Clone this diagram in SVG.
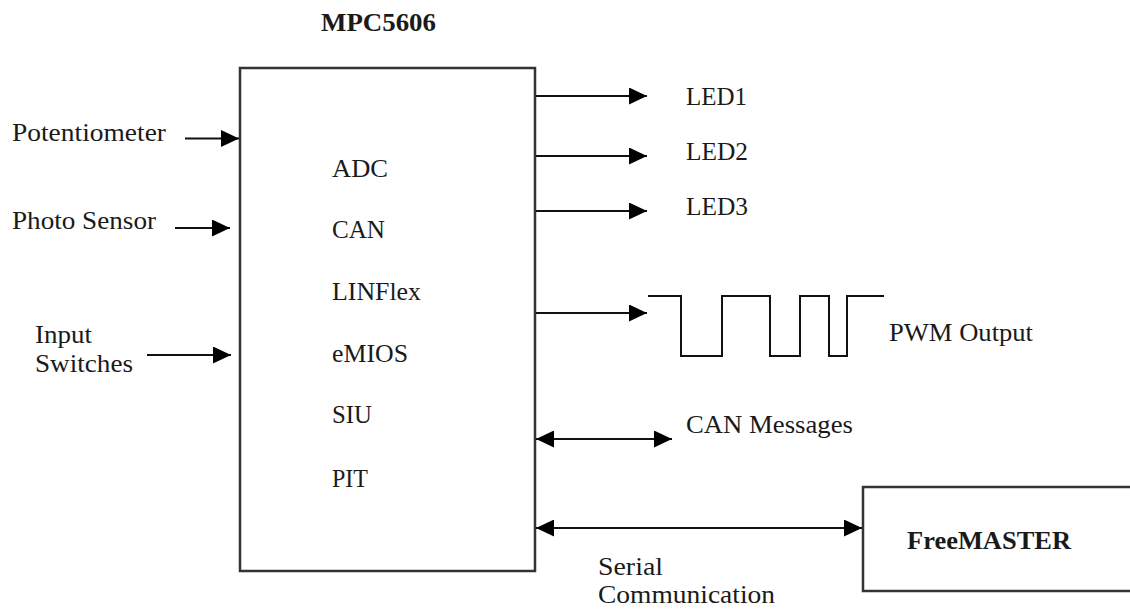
<svg xmlns="http://www.w3.org/2000/svg" width="1130" height="609" viewBox="0 0 1130 609">
<style>
  text { font-family: "Liberation Serif", "Times New Roman", serif; font-size: 26px; fill: #1a1a1a; }
  .b { font-weight: bold; }
  .box { fill: #ffffff; stroke: #333333; stroke-width: 2.5; }
  .ln { fill: none; stroke: #111111; stroke-width: 2; }
</style>
<defs>
  <marker id="ah" viewBox="0 0 18 17" refX="18" refY="8.5" markerWidth="18" markerHeight="17" markerUnits="userSpaceOnUse" orient="auto-start-reverse">
    <path d="M0,0 L18,8.5 L0,17 z" fill="#000000"/>
  </marker>
</defs>
<rect width="1130" height="609" fill="#ffffff"/>

<g id="mpc5606">
  <rect class="box" x="240" y="68" width="295" height="503"/>
  <text class="b" x="321" y="31" textLength="115" lengthAdjust="spacingAndGlyphs">MPC5606</text>
  <text x="332" y="177" textLength="56" lengthAdjust="spacingAndGlyphs">ADC</text>
  <text x="332" y="238" textLength="53" lengthAdjust="spacingAndGlyphs">CAN</text>
  <text x="332" y="300" textLength="89" lengthAdjust="spacingAndGlyphs">LINFlex</text>
  <text x="332" y="362" textLength="76" lengthAdjust="spacingAndGlyphs">eMIOS</text>
  <text x="332" y="423" textLength="40" lengthAdjust="spacingAndGlyphs">SIU</text>
  <text x="332" y="487" textLength="36" lengthAdjust="spacingAndGlyphs">PIT</text>
</g>

<g id="potentiometer">
  <text x="12" y="141" textLength="154" lengthAdjust="spacingAndGlyphs">Potentiometer</text>
</g>
<g id="photo-sensor">
  <text x="12" y="229" textLength="144" lengthAdjust="spacingAndGlyphs">Photo Sensor</text>
</g>
<g id="input-switches">
  <text x="35" y="343" textLength="57" lengthAdjust="spacingAndGlyphs">Input</text>
  <text x="35" y="372" textLength="98" lengthAdjust="spacingAndGlyphs">Switches</text>
</g>

<g id="led1"><text x="686" y="105" textLength="61" lengthAdjust="spacingAndGlyphs">LED1</text></g>
<g id="led2"><text x="686" y="160" textLength="62" lengthAdjust="spacingAndGlyphs">LED2</text></g>
<g id="led3"><text x="686" y="215" textLength="62" lengthAdjust="spacingAndGlyphs">LED3</text></g>

<g id="pwm-output">
  <polyline class="ln" points="648,296 681,296 681,356 722,356 722,296 770,296 770,356 800,356 800,296 829,296 829,356 847,356 847,296 884,296"/>
  <text x="889" y="341" textLength="144" lengthAdjust="spacingAndGlyphs">PWM Output</text>
</g>

<g id="can-messages">
  <text x="686" y="433" textLength="167" lengthAdjust="spacingAndGlyphs">CAN Messages</text>
</g>

<g id="serial-communication">
  <text x="598" y="575" textLength="65" lengthAdjust="spacingAndGlyphs">Serial</text>
  <text x="598" y="603" textLength="177" lengthAdjust="spacingAndGlyphs">Communication</text>
</g>

<g id="freemaster">
  <rect class="box" x="863" y="487" width="270" height="104"/>
  <text class="b" x="907" y="549" textLength="164" lengthAdjust="spacingAndGlyphs">FreeMASTER</text>
</g>

<g id="connectors">
  <line class="ln" x1="185" y1="138.5" x2="239" y2="138.5" marker-end="url(#ah)"/>
  <line class="ln" x1="175" y1="228" x2="230" y2="228" marker-end="url(#ah)"/>
  <line class="ln" x1="147" y1="355" x2="231" y2="355" marker-end="url(#ah)"/>
  <line class="ln" x1="536" y1="96" x2="647" y2="96" marker-end="url(#ah)"/>
  <line class="ln" x1="536" y1="156" x2="647" y2="156" marker-end="url(#ah)"/>
  <line class="ln" x1="536" y1="211" x2="647" y2="211" marker-end="url(#ah)"/>
  <line class="ln" x1="536" y1="313" x2="647" y2="313" marker-end="url(#ah)"/>
  <line class="ln" x1="536" y1="439" x2="672" y2="439" marker-start="url(#ah)" marker-end="url(#ah)"/>
  <line class="ln" x1="536" y1="528" x2="862" y2="528" marker-start="url(#ah)" marker-end="url(#ah)"/>
</g>
</svg>
